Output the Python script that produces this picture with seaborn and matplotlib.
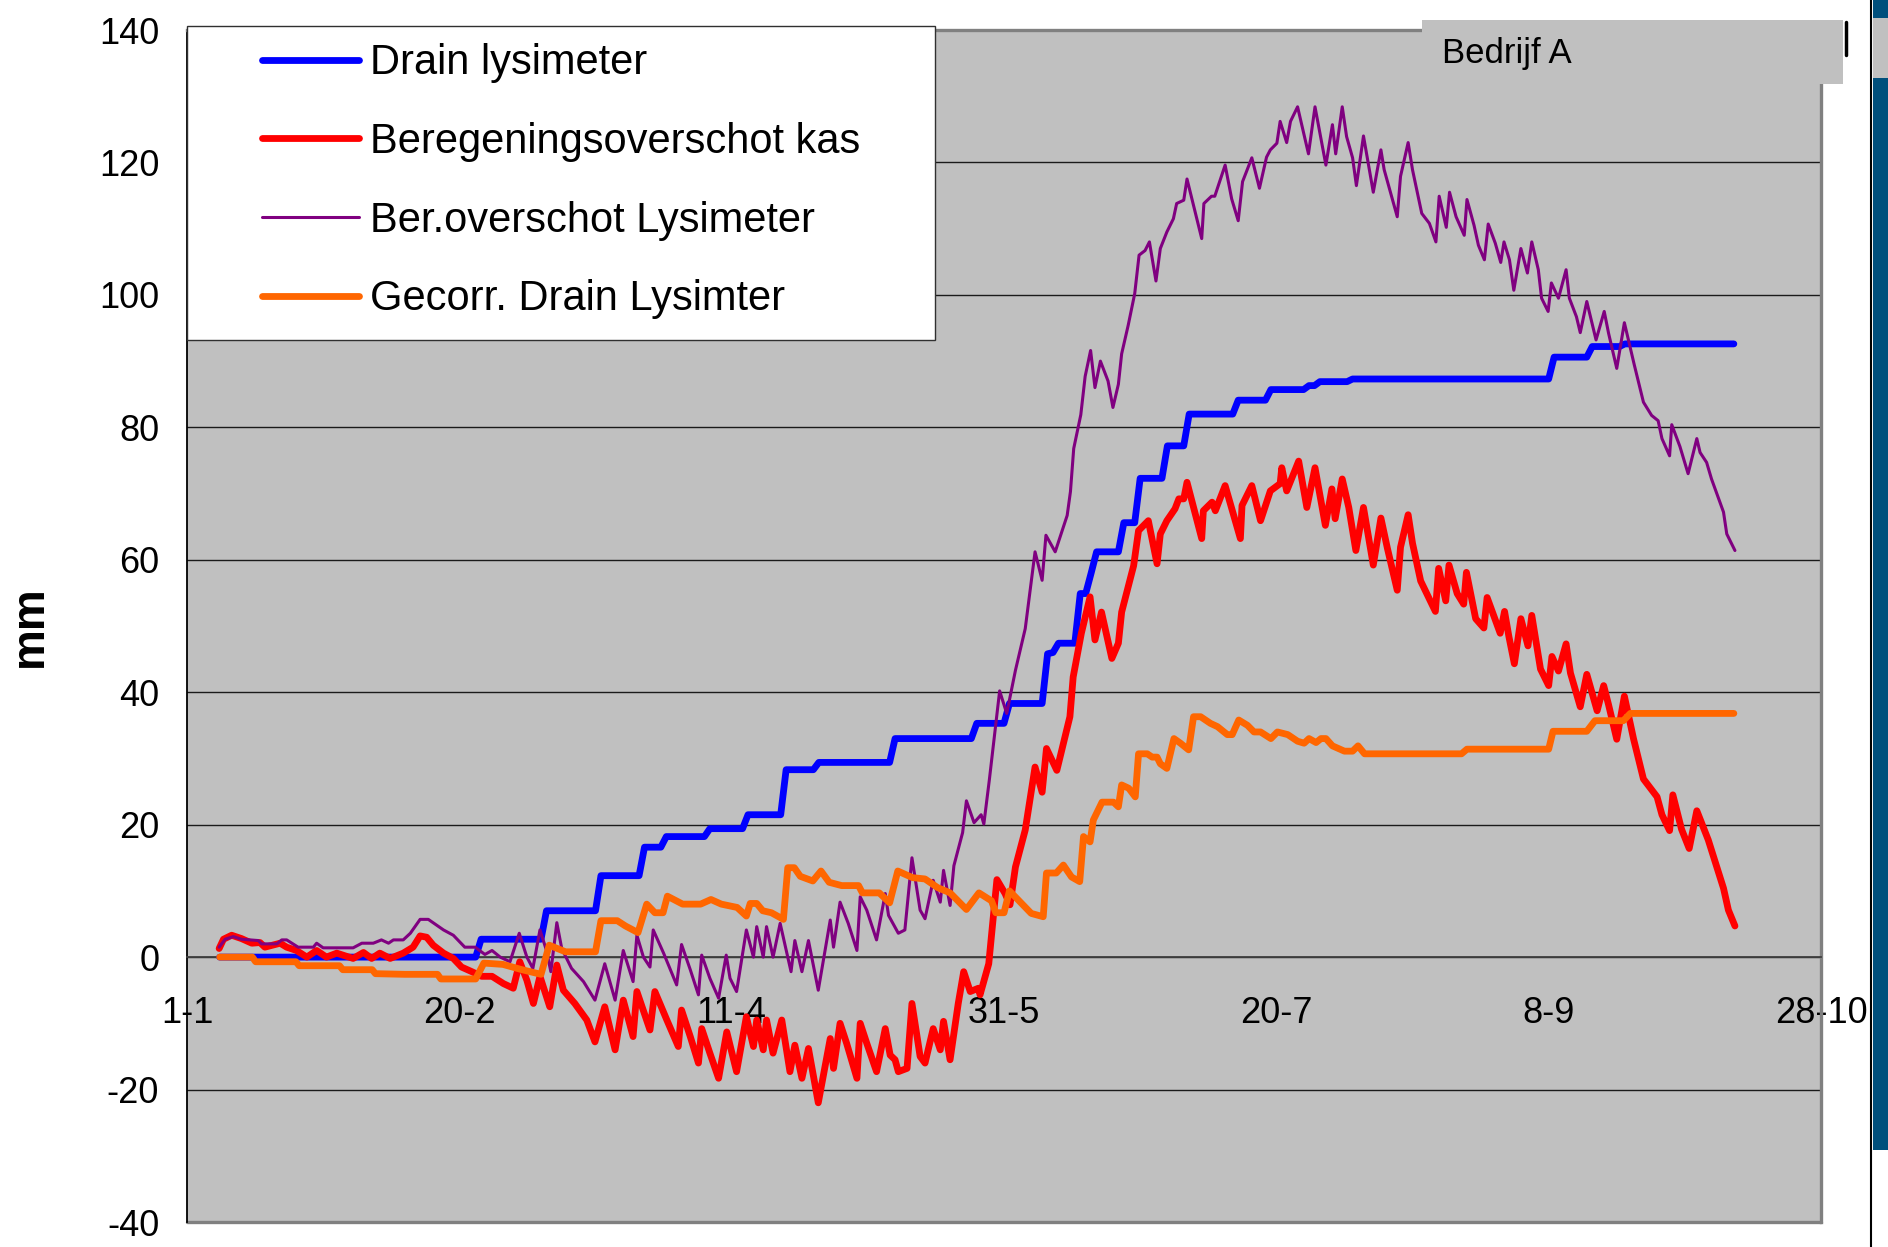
import matplotlib
matplotlib.use('Agg')
import matplotlib.pyplot as plt
import seaborn as sns
from matplotlib import font_manager
from matplotlib.patches import Rectangle
from matplotlib.lines import Line2D

# ---------------------------------------------------------
# Data (day of year since 1-1, mm)
# ---------------------------------------------------------
drain_days = [6, 53, 54, 65, 66, 75, 76, 83, 84, 87, 88, 95, 96, 102, 103, 109, 110, 115, 116,
              129, 130, 144, 145, 150, 151, 157, 158, 159, 160, 163, 164, 165, 166, 167, 171, 172,
              174, 175, 179, 180, 183, 184, 192, 193, 198, 199, 205, 206, 207, 208, 213, 214, 250,
              251, 257, 258, 263, 264, 284]
drain_mm = [0, 0, 2.7, 2.7, 7.0, 7.0, 12.3, 12.3, 16.6, 16.6, 18.2, 18.2, 19.4, 19.4, 21.5, 21.5,
            28.3, 28.3, 29.4, 29.4, 33.0, 33.0, 35.3, 35.3, 38.3, 38.3, 45.8, 46.0, 47.4, 47.4,
            54.9, 54.9, 58.0, 61.2, 61.2, 65.6, 65.6, 72.3, 72.3, 77.2, 77.2, 82.0, 82.0, 84.1,
            84.1, 85.7, 85.7, 86.3, 86.3, 86.9, 86.9, 87.3, 87.3, 90.6, 90.6, 92.2, 92.2, 92.6, 92.6]

kas_days = [5.9, 6.7, 8.2, 10.0, 11.9, 13.4, 14.3, 17.1, 18.3, 20.1, 22.0, 23.8, 25.6, 27.5, 30.5,
            32.4, 33.9, 35.4, 37.3, 39.7, 41.5, 42.8, 44.0, 45.2, 47.1, 48.9, 50.4, 52.3, 54.1,
            56.0, 58.1, 59.9, 61.1, 62.4, 63.6, 64.8, 66.6, 67.9, 69.1, 71.2, 73.4, 74.9, 76.7,
            78.6, 80.1, 81.9, 82.6, 85.0, 85.9, 88.1, 90.2, 90.8, 92.4, 93.9, 94.5, 96.0, 97.6,
            99.1, 100.9, 102.7, 104.0, 104.6, 105.8, 106.4, 107.6, 109.2, 110.7, 111.6, 112.9,
            114.1, 115.9, 118.1, 118.7, 119.9, 121.1, 123.0, 123.6, 124.8, 126.6, 128.2, 129.1,
            130.0, 130.6, 132.2, 133.1, 134.6, 135.5, 137.0, 138.3, 138.9, 140.1, 141.6, 142.6,
            143.8, 145.3, 145.6, 147.2, 148.7, 150.2, 151.1, 152.1, 153.9, 155.7, 157.0, 157.8,
            159.7, 162.1, 162.7, 164.2, 165.8, 166.7, 167.9, 169.8, 171.0, 171.6, 173.8, 174.7,
            176.5, 178.1, 178.7, 179.9, 181.4, 182.1, 183.0, 183.6, 186.3, 186.6, 188.2, 188.8,
            190.6, 193.4, 193.7, 195.5, 197.1, 198.9, 200.7, 201.0, 201.9, 204.1, 205.6, 207.1,
            209.0, 210.2, 210.8, 212.1, 213.3, 214.6, 216.0, 217.8, 219.2, 220.4, 222.2, 222.8,
            224.2, 225.0, 226.5, 229.2, 229.8, 231.1, 231.7, 233.2, 234.4, 234.9, 236.6, 238.1,
            238.7, 241.1, 241.9, 242.7, 243.7, 244.9, 246.2, 246.9, 248.5, 250.0, 250.6, 251.8,
            253.2, 254.0, 255.8, 257.0, 258.9, 260.1, 261.0, 262.5, 263.9, 265.6, 267.4, 269.9,
            270.8, 272.2, 272.8, 274.4, 275.8, 277.2, 279.3, 282.1, 283.0, 284.2]
kas_mm = [1.3, 2.7, 3.3, 2.8, 2.1, 2.2, 1.5, 2.1, 1.5, 1.0, 0.0, 1.0, 0.0, 0.6, -0.2,
          0.7, -0.2, 0.6, -0.2, 0.6, 1.5, 3.2, 3.0, 1.8, 0.6, -0.2, -1.5, -2.2, -2.9,
          -2.9, -4.0, -4.7, -0.7, -3.5, -7.0, -2.9, -7.5, -1.2, -5.0, -7.0, -9.5, -12.8, -7.5,
          -14.0, -6.5, -12.0, -5.2, -11.0, -5.2, -9.5, -13.5, -8.0, -12.0, -16.0, -10.8, -14.5, -18.3,
          -11.3, -17.3, -9.0, -13.5, -9.5, -14.0, -9.5, -14.5, -9.5, -17.3, -13.3, -18.3,
          -13.8, -22.0, -12.3, -16.8, -10.0, -13.0, -18.3, -10.0, -13.0, -17.3, -10.8, -14.8,
          -15.5, -17.3, -16.8, -7.0, -15.0, -16.0, -10.8, -14.0, -9.7, -15.5, -7.0, -2.2,
          -5.2, -4.7, -5.7, -1.0, 11.7, 9.6, 7.9, 13.6, 19.2, 28.7, 24.9, 31.5,
          28.2, 36.3, 42.3, 48.9, 54.4, 47.9, 52.1, 45.1, 47.4, 52.1, 59.1, 64.4,
          65.9, 59.4, 63.9, 65.9, 67.7, 69.2, 69.2, 71.7, 63.2, 67.4, 68.7, 67.4,
          71.2, 63.2, 68.2, 71.2, 65.9, 70.4, 71.5, 73.9, 70.4, 74.9, 67.9, 73.9,
          65.2, 70.7, 66.2, 72.2, 67.9, 61.4, 67.9, 59.2, 66.3, 61.7, 55.4, 61.9,
          66.8, 62.5, 56.8, 52.2, 58.7, 53.8, 59.2, 54.9, 53.3, 58.1, 51.1, 49.7,
          54.3, 48.9, 52.2, 48.4, 44.3, 51.1, 47.0, 51.6, 43.5, 41.0, 45.4, 43.2,
          47.3, 42.9, 37.8, 42.7, 37.2, 41.0, 38.1, 32.9, 39.4, 32.9, 26.9, 24.2,
          21.5, 19.1, 24.5, 19.3, 16.4, 22.1, 17.7, 10.4, 7.1, 4.7]

lys_days = [5.9, 7.0, 8.5, 10.0, 13.1, 13.7, 16.5, 17.4, 18.3, 20.4, 23.2, 23.8, 25.0, 30.5, 32.1,
            34.2, 35.7, 37.0, 37.9, 39.7, 41.0, 42.8, 44.3, 47.1, 48.9, 51.0, 52.9, 54.7, 56.0,
            57.5, 59.3, 61.0, 62.4, 63.5, 64.8, 66.0, 66.8, 67.9, 68.8, 70.6, 72.8, 74.9, 76.7,
            78.6, 80.1, 81.9, 82.6, 83.8, 85.0, 85.6, 87.5, 89.9, 90.8, 92.4, 93.9, 94.5, 96.0,
            97.6, 99.0, 99.7, 100.9, 102.7, 104.0, 104.6, 105.8, 106.4, 107.6, 108.9, 110.9,
            111.6, 112.9, 114.1, 115.9, 118.1, 118.7, 119.9, 121.4, 123.0, 123.6, 124.8, 126.6,
            128.2, 128.8, 130.6, 131.8, 133.1, 134.6, 135.5, 137.0, 138.3, 138.9, 140.1, 140.8,
            142.4, 143.1, 144.5, 145.8, 146.3, 147.3, 149.2, 150.5, 152.1, 153.9, 155.7, 157.0,
            157.7, 159.4, 161.6, 162.2, 162.8, 164.1, 164.9, 165.9, 166.7, 167.7, 169.1, 170.0,
            171.0, 171.6, 172.8, 174.0, 174.8, 175.9, 176.7, 177.9, 178.7, 179.9, 181.1, 181.7,
            183.0, 183.6, 186.3, 186.7, 188.1, 188.7, 190.6, 191.8, 193.0, 193.8, 195.5, 196.9,
            198.2, 198.9, 200.1, 200.7, 201.9, 202.6, 203.9, 205.9, 207.1, 209.1, 210.3, 210.9,
            212.1, 212.9, 214.0, 214.7, 216.0, 217.8, 219.2, 219.8, 222.2, 222.8, 224.2, 225.0,
            226.7, 228.1, 229.3, 229.9, 231.2, 231.8, 233.0, 234.5, 235.0, 236.3, 237.1, 238.2,
            238.9, 240.2, 241.2, 241.8, 242.8, 243.6, 244.9, 246.1, 246.9, 248.1, 248.7, 249.9,
            250.5, 251.8, 253.2, 253.8, 255.1, 255.8, 257.0, 258.7, 260.2, 261.0, 262.5, 263.9,
            265.7, 267.4, 268.9, 270.1, 270.8, 272.2, 272.6, 274.1, 275.6, 277.2, 277.8, 279.0,
            279.9, 282.1, 282.7, 284.2]
lys_mm = [1.5, 2.7, 3.1, 2.7, 2.5, 2.0, 2.0, 2.6, 2.6, 1.5, 1.5, 2.1, 1.4, 1.4, 2.1,
          2.1, 2.6, 2.1, 2.6, 2.6, 3.6, 5.7, 5.7, 4.1, 3.3, 1.5, 1.5, 0.4, 1.0,
          0.0, -0.7, 3.6, 0.0, -1.7, 4.1, 1.0, -2.2, 5.2, 1.3, -1.7, -3.7, -6.5, -1.0,
          -6.5, 1.0, -3.7, 3.3, 0.0, -1.5, 4.1, 0.6, -4.2, 1.9, -1.9, -5.7, 0.3, -3.2,
          -6.2, 0.3, -3.2, -5.2, 4.1, 0.0, 4.6, 0.0, 4.6, 0.0, 5.1, -2.2,
          2.5, -2.2, 2.5, -5.0, 5.6, 1.5, 8.3, 5.1, 1.0, 9.1, 7.1, 2.6,
          9.6, 6.3, 3.6, 4.1, 15.0, 7.1, 5.8, 11.6, 8.3, 13.1, 7.8, 13.8,
          18.8, 23.6, 20.3, 21.5, 20.1, 26.7, 40.2, 36.8, 43.3, 49.6, 61.2, 56.9,
          63.7, 61.2, 66.7, 70.3, 76.8, 81.9, 87.7, 91.6, 86.0, 90.0, 87.0, 83.0,
          86.5, 91.1, 95.4, 100.2, 106.0, 106.7, 108.0, 102.1, 107.0, 109.5, 111.5, 113.8,
          114.3, 117.5, 108.5, 113.8, 114.9, 114.9, 119.6, 114.5, 111.2, 117.1, 120.7, 116.1,
          120.8, 121.9, 122.9, 126.2, 123.0, 126.2, 128.4, 121.3, 128.4, 119.6, 125.7, 121.3,
          128.4, 123.9, 120.7, 116.5, 124.0, 115.5, 121.9, 118.9, 111.8, 117.9, 123.0, 118.9,
          112.3, 110.8, 108.0, 114.9, 110.2, 115.5, 111.8, 109.0, 114.4, 110.5, 107.5, 105.3,
          110.7, 107.8, 104.9, 108.0, 105.3, 100.7, 107.0, 103.3, 108.0, 103.8, 99.5, 97.5,
          101.8, 99.5, 103.8, 99.5, 96.7, 94.3, 99.0, 93.2, 97.5, 94.2, 88.9, 95.8,
          89.5, 83.8, 81.8, 81.0, 78.3, 75.7, 80.4, 77.1, 73.0, 78.3, 76.2, 74.7,
          72.2, 67.2, 63.9, 61.4]

gecorr_days = [6, 12, 12.6, 20, 20.6, 28, 28.6, 34, 34.6, 40, 46, 46.6, 53, 54.5, 58, 61.5, 65,
               66.5, 69.5, 75, 76, 79, 80.5, 82.8, 84.4, 85.9, 87.4, 88.2, 91, 94.3, 96.2, 98.1,
               101, 102.7, 103.4, 104.6, 105.7, 107.3, 109.5, 110.3, 111.5, 112.6, 114.9, 116.4,
               117.9, 120.2, 123.3, 124, 127.1, 129, 130.5, 133.2, 135.5, 137.8, 140.1, 143.1,
               145.4, 147.7, 148.5, 150, 151, 155, 157.2, 157.8, 159.6, 160.9, 162.4, 163.9,
               164.6, 165.8, 166.4, 168, 170.1, 171, 171.6, 172.9, 174.1, 174.7, 176.3, 177.2,
               178.1, 178.7, 179.9, 181.2, 182.4, 183.9, 184.8, 186.1, 187.9, 189.2, 191, 191.9,
               193.1, 194.7, 195.9, 197.1, 199, 200.2, 202.1, 203.9, 205.1, 206, 207.3, 208.2,
               209.1, 210.3, 212.5, 214, 215, 216.2, 234, 235, 250, 250.8, 257, 258.5, 263.7,
               265, 284]
gecorr_mm = [0, 0, -0.7, -0.7, -1.3, -1.3, -1.9, -1.9, -2.5, -2.6, -2.6, -3.3, -3.3, -0.9, -1.1,
             -1.9, -2.6, 1.8, 0.8, 0.8, 5.5, 5.5, 4.7, 3.7, 8.0, 6.7, 6.7, 9.2, 8.0, 8.0, 8.7, 8.0,
             7.5, 6.2, 8.1, 8.1, 7.0, 6.7, 5.7, 13.5, 13.5, 12.2, 11.5, 13.0,
             11.3, 10.8, 10.8, 9.7, 9.7, 8.2, 13.0, 12.0, 11.8, 10.5, 9.7, 7.2,
             9.7, 8.5, 6.7, 6.7, 10.0, 6.6, 6.1, 12.7, 12.7, 13.9, 12.1, 11.4,
             18.2, 17.4, 20.7, 23.4, 23.4, 22.7, 26.0, 25.5, 24.2, 30.7, 30.7, 30.2,
             30.2, 29.2, 28.5, 33.0, 32.3, 31.3, 36.3, 36.3, 35.3, 34.8, 33.6, 33.6,
             35.8, 35.0, 34.0, 34.0, 33.0, 34.0, 33.6, 32.6, 32.3, 33.0, 32.4, 33.0,
             33.0, 31.9, 31.1, 31.1, 31.9, 30.7, 30.7, 31.4, 31.4, 34.1, 34.1, 35.7, 35.7,
             36.8, 36.8]

x_ticks = [0, 50, 100, 150, 200, 250, 300]
x_labels = ['1-1', '20-2', '11-4', '31-5', '20-7', '8-9', '28-10']
y_ticks = [-40, -20, 0, 20, 40, 60, 80, 100, 120, 140]
y_labels = ['-40', '-20', '0', '20', '40', '60', '80', '100', '120', '140']

# ---------------------------------------------------------
# Style
# ---------------------------------------------------------
sns.set_theme(style='white')
names = {f.name for f in font_manager.fontManager.ttflist}
narrow = 'Liberation Sans Narrow' if 'Liberation Sans Narrow' in names else 'Liberation Sans'
plt.rcParams['font.family'] = ['Liberation Sans', 'DejaVu Sans']
plt.rcParams['text.color'] = 'black'
plt.rcParams['axes.labelcolor'] = 'black'

W, H = 1888, 1247
fig = plt.figure(figsize=(W / 100, H / 100), dpi=100)
fig.patch.set_facecolor('white')
ax = fig.add_axes([187 / W, 1 - 1222 / H, 1634 / W, 1192 / H])
ax.set_facecolor('#C0C0C0')

line_kw = dict(ax=ax, estimator=None, errorbar=None, sort=False,
               solid_joinstyle='round', solid_capstyle='round')
sns.lineplot(x=drain_days, y=drain_mm, color='#0000FF', linewidth=4.9,
             label='Drain lysimeter', zorder=3, **line_kw)
sns.lineplot(x=kas_days, y=kas_mm, color='#FF0000', linewidth=4.9,
             label='Beregeningsoverschot kas', zorder=4, **line_kw)
sns.lineplot(x=lys_days, y=lys_mm, color='#800080', linewidth=2.2,
             label='Ber.overschot Lysimeter', zorder=5, **line_kw)
sns.lineplot(x=gecorr_days, y=gecorr_mm, color='#FF6600', linewidth=4.9,
             label='Gecorr. Drain Lysimter', zorder=6, **line_kw)

# axes look like the Excel chart: x axis crossing at 0
ax.spines['bottom'].set_position(('data', 0))
ax.spines['bottom'].set_color('#404040')
ax.spines['bottom'].set_linewidth(1.3)
ax.spines['left'].set_color('black')
ax.spines['left'].set_linewidth(1.3)
for s in ['top', 'right']:
    ax.spines[s].set_color('#808080')
    ax.spines[s].set_linewidth(2.4)
ax.plot([0, 1], [0, 0], transform=ax.transAxes, color='#808080', lw=2.4, clip_on=False)

ax.set_xlim(0, 300)
ax.set_ylim(-40, 140)
ax.set_xticks(x_ticks)
ax.set_xticklabels(x_labels)
ax.set_yticks(y_ticks)
ax.set_yticklabels(y_labels)
ax.yaxis.grid(True, color='#1a1a1a', linewidth=1.0, zorder=1)
ax.set_axisbelow(True)
ax.set_xlabel('')
ax.tick_params(axis='x', direction='out', length=8, width=1, color='#404040', pad=20,
               labelcolor='black', labelsize=26)
ax.tick_params(axis='y', direction='out', length=4, width=1, color='black', pad=16,
               labelcolor='black', labelsize=26)

ax.set_ylabel('mm', fontsize=33, fontweight='bold', color='black')
ax.yaxis.set_label_coords(-0.096, 0.5)
ax.yaxis.label.set_va('center')

# legend: white box in the top-left corner
ax.add_patch(Rectangle((0, 0.740), 0.458, 0.263, transform=ax.transAxes, facecolor='white',
                       edgecolor='#303030', linewidth=1.0, clip_on=False, zorder=10))
handles, labels = ax.get_legend_handles_labels()
leg = ax.legend(handles, labels, loc='upper left', bbox_to_anchor=(0.0459, 0.989),
                frameon=False, fontsize=30, borderpad=0, borderaxespad=0,
                handlelength=2.33, handletextpad=0.26, labelspacing=0.93)
leg.set_zorder(11)
for t in leg.get_texts():
    t.set_family([narrow, 'Liberation Sans'])
    t.set_color('black')

# "Bedrijf A" label box and slide remnants on the right
fig.patches.append(Rectangle((1422 / W, 1 - 84 / H), 421 / W, 64 / H, transform=fig.transFigure,
                             facecolor='#C0C0C0', edgecolor='none', zorder=5))
fig.text(1442 / W, 1 - 53 / H, 'Bedrijf A', fontsize=25, va='center', ha='left', color='black',
         family=[narrow, 'Liberation Sans'], zorder=6)
fig.add_artist(Line2D([1846 / W, 1846 / W], [1 - 22 / H, 1 - 55 / H], color='black', lw=2.5))
fig.add_artist(Line2D([1871 / W, 1871 / W], [0, 1], color='black', lw=1.5))
fig.patches.append(Rectangle((1873 / W, 1 - 1150 / H), 15 / W, 1072 / H, transform=fig.transFigure,
                             facecolor='#004F7C', edgecolor='none'))
fig.patches.append(Rectangle((1873 / W, 1 - 18 / H), 15 / W, 18 / H, transform=fig.transFigure,
                             facecolor='#004F7C', edgecolor='none'))
fig.patches.append(Rectangle((1873 / W, 1 - 78 / H), 15 / W, 60 / H, transform=fig.transFigure,
                             facecolor='#C0C0C0', edgecolor='none'))

fig.savefig('out.png', dpi=100, facecolor='white')
